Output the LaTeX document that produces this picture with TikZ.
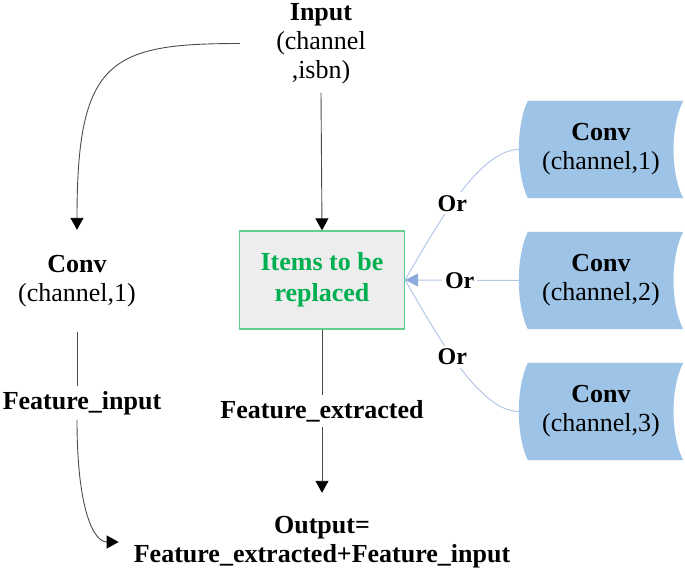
\documentclass[tikz,border=0pt]{standalone}
\usepackage{fontspec}
\setmainfont{Liberation Serif}
\usetikzlibrary{arrows.meta,backgrounds}
\definecolor{convblue}{HTML}{9DC3E6}
\definecolor{linkblue}{HTML}{B4C7E7}
\definecolor{tipblue}{HTML}{8FAADC}
\definecolor{boxgreen}{RGB}{100,206,140}
\definecolor{textgreen}{HTML}{00B050}
\definecolor{boxfill}{HTML}{EDEDED}
\tikzset{
  txt/.style={font=\fontsize{26}{29}\selectfont, inner sep=0pt, align=center},
  convshape/.style={txt, minimum width=164pt, minimum height=97pt},
  flow/.style={draw=black!70, line width=0.9pt},
  flowarrow/.style={flow, -{Triangle[length=12pt,width=13pt,fill=black,color=black]}},
  bluelink/.style={draw=linkblue, line width=1pt},
  orlabel/.style={font=\fontsize{24}{28}\selectfont\bfseries, fill=white, inner sep=3pt},
}
\begin{document}
\begin{tikzpicture}[x=1pt,y=1pt]
\useasboundingbox (0,0) rectangle (685,-573);

% nodes
\node[txt, minimum width=162pt, minimum height=98pt] (input) at (321,-43.5)
  {\textbf{Input}\\(channel\\,isbn)};
\node[txt, minimum height=102pt] (conv0) at (77,-281)
  {\textbf{Conv}\\(channel,1)};
\node[txt, minimum height=33pt] (fi) at (82,-403) {\textbf{Feature\_input}};
\node[txt, draw=boxgreen, fill=boxfill, line width=1.3pt, text=textgreen,
      font=\fontsize{26}{31}\selectfont\bfseries,
      minimum width=165pt, minimum height=98pt] (box) at (322,-280)
  {Items to be\\replaced};
\node[txt, minimum height=32pt] (fe) at (322,-411) {\textbf{Feature\_extracted}};
\node[txt, inner xsep=15pt, minimum height=98pt] (out) at (322,-542)
  {\textbf{Output=}\\\textbf{Feature\_extracted+Feature\_input}};

\node[convshape] (c1) at (601,-149.5) {\textbf{Conv}\\(channel,1)};
\node[convshape] (c2) at (601,-280.5) {\textbf{Conv}\\(channel,2)};
\node[convshape] (c3) at (601,-411.5) {\textbf{Conv}\\(channel,3)};

% blue stored-data shapes behind the text
\begin{scope}[on background layer]
\foreach \n in {c1,c2,c3}{
  \fill[convblue] ([xshift=9pt]\n.north west) -- (\n.north east)
    to[out=-117.5,in=117.5,distance=28pt] (\n.south east)
    -- ([xshift=9pt]\n.south west)
    to[out=115.6,in=-115.6,distance=27.7pt] ([xshift=9pt]\n.north west) -- cycle;
}
\end{scope}

% black connectors
\draw[flowarrow] (input.west) to[out=180,in=90,out distance=130pt,in distance=170pt] (conv0.north);
\draw[flowarrow] (input.south) -- (box.north);
\draw[flow] (conv0.south) -- (conv0.south |- fi.north);
\draw[flowarrow] (conv0.south |- fi.south) to[out=-90,in=180,out distance=90pt,in distance=25pt] (out.west);
\draw[flow] (box.south) -- (fe.north);
\draw[flowarrow] (fe.south) -- (out.north);

% blue connectors
\draw[bluelink] (c1.west) to[out=180,in=60,out distance=40pt,in distance=60pt]
  node[orlabel, pos=0.55] {Or} (box.east);
\draw[bluelink] (c3.west) to[out=180,in=-60,out distance=40pt,in distance=60pt]
  node[orlabel, pos=0.55] {Or} (box.east);
\draw[bluelink, -{Triangle[length=13pt,width=13pt,fill=tipblue,color=tipblue]}] (c2.west) --
  node[orlabel, pos=0.52] {Or} (box.east);
\end{tikzpicture}
\end{document}
